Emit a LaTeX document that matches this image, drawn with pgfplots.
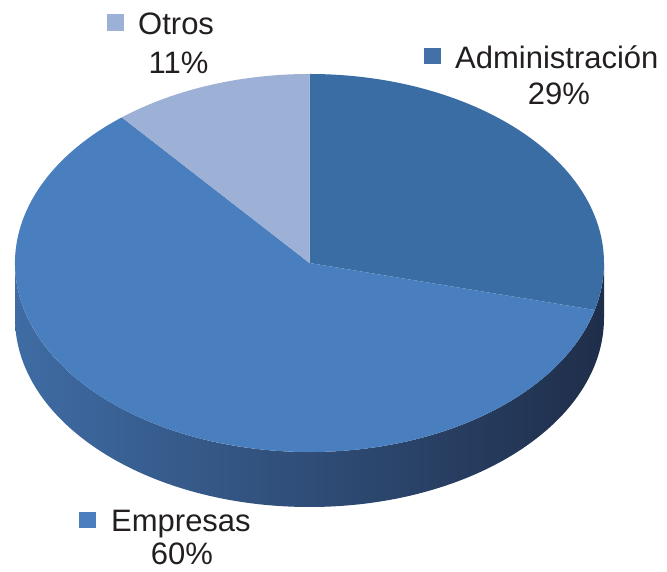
\documentclass[border=0pt]{standalone}
\usepackage{pgfplots}
\usepackage{pgfplotstable}
\pgfplotsset{compat=1.18}
\usepackage{fontspec}
\setmainfont{Liberation Sans}
\definecolor{cAdm}{HTML}{3B6DA5}
\definecolor{cEmp}{HTML}{4A7FBF}
\definecolor{cOtr}{HTML}{9CB1D5}
\definecolor{mAdm}{HTML}{4470A8}
\definecolor{sideL}{HTML}{3F6CA4}
\definecolor{sideM}{HTML}{2B4167}
\definecolor{sideR}{HTML}{1F2E4A}
\definecolor{txt}{HTML}{231F20}
% values in percent
\pgfplotstableread{
value
29
60
11
}\piedata
\pgfplotstablegetelem{0}{value}\of\piedata \let\vA\pgfplotsretval
\pgfplotstablegetelem{1}{value}\of\piedata \let\vB\pgfplotsretval
\pgfplotstablegetelem{2}{value}\of\piedata \let\vC\pgfplotsretval
\pgfmathsetmacro{\aA}{90}
\pgfmathsetmacro{\aB}{\aA-3.6*\vA}
\pgfmathsetmacro{\aC}{\aB-3.6*\vB}
\pgfmathsetmacro{\aD}{\aC-3.6*\vC}
\def\cx{309.5}
\def\cy{309}
\def\rx{294.5}
\def\ry{189}
\def\dep{55}
\begin{document}
\begin{tikzpicture}
\begin{axis}[
  width=667pt, height=572pt, scale only axis,
  xmin=0, xmax=667, ymin=0, ymax=572,
  axis lines=none, clip=false,
]
% side (front half)
\shade[left color=sideL, middle color=sideM, right color=sideR]
  (\cx-\rx,\cy) arc[start angle=180, end angle=360, x radius=\rx, y radius=\ry]
  -- (\cx+\rx,\cy-\dep) arc[start angle=360, end angle=180, x radius=\rx, y radius=\ry]
  -- cycle;
% top slices
\fill[cAdm] (\cx,\cy) -- ({\cx+\rx*cos(\aA)},{\cy+\ry*sin(\aA)})
  arc[start angle=\aA, end angle=\aB, x radius=\rx, y radius=\ry] -- cycle;
\fill[cEmp] (\cx,\cy) -- ({\cx+\rx*cos(\aB)},{\cy+\ry*sin(\aB)})
  arc[start angle=\aB, end angle=\aC, x radius=\rx, y radius=\ry] -- cycle;
\fill[cOtr] (\cx,\cy) -- ({\cx+\rx*cos(\aC)},{\cy+\ry*sin(\aC)})
  arc[start angle=\aC, end angle=\aD, x radius=\rx, y radius=\ry] -- cycle;
% labels
\fill[cOtr] (107,558) rectangle (124,541);
\node[anchor=base west, inner sep=0pt, text=txt, font=\fontsize{31}{36}\selectfont] at (138,537) {Otros};
\node[anchor=base, inner sep=0pt, text=txt, font=\fontsize{31}{36}\selectfont] at (178.5,498) {\vC\%};
\fill[mAdm] (424,524) rectangle (441,508);
\node[anchor=base west, inner sep=0pt, text=txt, font=\fontsize{31}{36}\selectfont] at (455,503) {Administración};
\node[anchor=base, inner sep=0pt, text=txt, font=\fontsize{31}{36}\selectfont] at (559,467) {\vA\%};
\fill[cEmp] (79,60) rectangle (96,44);
\node[anchor=base west, inner sep=0pt, text=txt, font=\fontsize{31}{36}\selectfont] at (111,40) {Empresas};
\node[anchor=base, inner sep=0pt, text=txt, font=\fontsize{31}{36}\selectfont] at (182,7) {\vB\%};
\end{axis}
\pgfresetboundingbox
\useasboundingbox (current axis.south west) rectangle (current axis.north east);
\end{tikzpicture}
\end{document}
